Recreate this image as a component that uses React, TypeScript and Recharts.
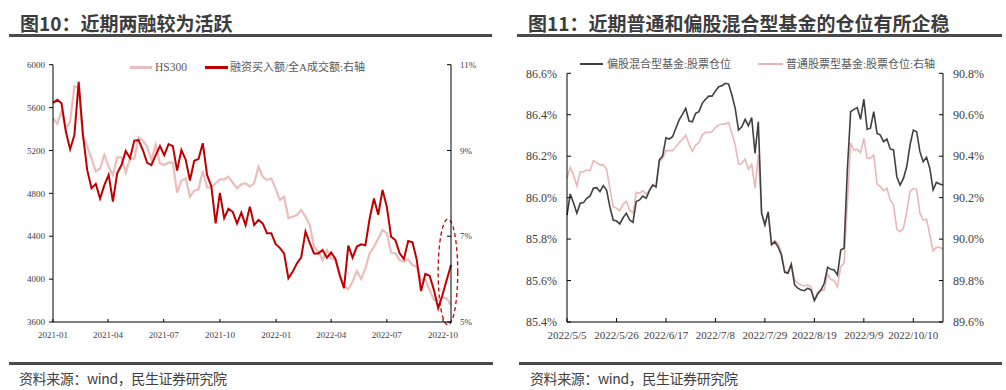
import React from 'react';
import { LineChart, Line, XAxis, YAxis, ReferenceArea } from 'recharts';

// ---------- Chart 10 data (weekly, from 2021-01-01) ----------
const weekStart = '2021-01-01';
const hs300 = [
  5500, 5450, 5570, 5400, 5470, 5800, 5780, 5330, 5235, 5127,
  5002, 5034, 5158, 5049, 4971, 5136, 5136, 4993, 5127, 5127,
  5323, 5291, 5235, 5111, 5251, 5080, 5064, 5086, 5086, 4806,
  4918, 4940, 4769, 4825, 4838, 5011, 4856, 4856, 4894, 4931,
  4931, 4955, 4899, 4847, 4884, 4894, 4862, 4894, 5049, 4955,
  4924, 4940, 4847, 4738, 4769, 4567, 4582, 4598, 4645, 4582,
  4505, 4302, 4256, 4178, 4272, 4194, 4178, 4022, 3929, 3905,
  3976, 4076, 4001, 4101, 4241, 4302, 4380, 4458, 4427, 4247,
  4241, 4178, 4162, 4184, 4131, 4116, 3992, 3992, 3898, 3805,
  3805, 3830, 3820, 3758,
];
const marginRatio = [
  10.11, 10.18, 10.1, 9.44, 9.03, 9.36, 10.6, 9.36, 8.54, 8.12,
  8.22, 7.88, 8.19, 8.43, 7.81, 8.47, 8.66, 8.99, 8.82, 9.23,
  9.24, 9.01, 8.71, 8.66, 8.89, 9.1, 8.89, 9.15, 9.1, 8.53,
  9.01, 8.79, 8.3, 8.76, 8.8, 9.17, 8.43, 8.16, 7.3, 8.01,
  7.42, 7.64, 7.57, 7.3, 7.55, 7.26, 7.69, 7.26, 7.38, 7.3,
  7.07, 7.07, 6.82, 6.73, 6.6, 6.02, 6.17, 6.37, 6.51, 7.11,
  6.84, 6.6, 6.6, 6.68, 6.5, 6.62, 6.47, 6.1, 5.79, 6.78,
  6.5, 6.76, 6.81, 6.79, 7.42, 7.88, 7.5, 8.08, 7.69, 6.99,
  6.91, 6.6, 6.47, 6.89, 6.86, 6.45, 5.72, 6.12, 6.08, 5.75,
  5.32, 5.63, 5.98, 6.33,
];
const quarterTicks = ['2021-01', '2021-04', '2021-07', '2021-10', '2022-01', '2022-04', '2022-07', '2022-10'];
const leftTicks = [3600, 4000, 4400, 4800, 5200, 5600, 6000];
const rightPctTicks = [5, 7, 9, 11];
const highlightArea = { x1: '2022-09-23', x2: '2022-10-25', y1: 4.93, y2: 7.4 };

// ---------- Chart 11 data (trading days, from 2022-05-05) ----------
const mixedFund = [
  85.916, 86.018, 85.973, 85.925, 85.973, 85.976, 85.997, 86.008, 86.045, 86.048,
  86.029, 86.058, 86.037, 85.956, 85.892, 85.887, 85.873, 85.903, 85.925, 85.892,
  85.881, 85.981, 85.989, 86.008, 85.997, 86.034, 86.061, 86.053, 86.182, 86.201,
  86.289, 86.283, 86.294, 86.335, 86.375, 86.402, 86.431, 86.37, 86.366, 86.407,
  86.415, 86.455, 86.475, 86.49, 86.49, 86.515, 86.535, 86.54, 86.552, 86.548,
  86.495, 86.431, 86.326, 86.342, 86.378, 86.347, 86.386, 86.214, 86.366, 85.925,
  85.868, 85.932, 85.772, 85.787, 85.763, 85.723, 85.64, 85.635, 85.678, 85.579,
  85.563, 85.554, 85.551, 85.563, 85.554, 85.503, 85.535, 85.554, 85.587, 85.664,
  85.654, 85.651, 85.627, 85.747, 85.756, 86.133, 86.415, 86.426, 86.434, 86.378,
  86.475, 86.33, 86.335, 86.415, 86.311, 86.302, 86.27, 86.283, 86.235, 86.23,
  86.101, 86.061, 86.093, 86.149, 86.254, 86.326, 86.318, 86.222, 86.173, 86.195,
  86.142, 86.037, 86.074, 86.066, 86.061,
];
const stockFund = [
  90.293, 90.346, 90.309, 90.256, 90.325, 90.325, 90.333, 90.33, 90.378, 90.369,
  90.358, 90.358, 90.338, 90.245, 90.156, 90.149, 90.137, 90.169, 90.181, 90.14,
  90.125, 90.226, 90.221, 90.234, 90.216, 90.237, 90.264, 90.25, 90.373, 90.39,
  90.427, 90.427, 90.427, 90.446, 90.465, 90.482, 90.502, 90.459, 90.425, 90.454,
  90.465, 90.502, 90.515, 90.515, 90.518, 90.538, 90.551, 90.554, 90.556, 90.562,
  90.511, 90.454, 90.362, 90.365, 90.387, 90.337, 90.361, 90.245, 90.406, 90.125,
  90.076, 90.125, 89.98, 89.992, 89.98, 89.932, 89.843, 89.843, 89.88, 89.803,
  89.787, 89.779, 89.774, 89.779, 89.77, 89.706, 89.746, 89.754, 89.754, 89.832,
  89.806, 89.799, 89.77, 89.867, 89.883, 90.173, 90.465, 90.43, 90.433, 90.417,
  90.486, 90.39, 90.39, 90.406, 90.266, 90.253, 90.234, 90.245, 90.189, 90.165,
  90.047, 90.036, 90.052, 90.132, 90.229, 90.245, 90.24, 90.125, 90.092, 90.096,
  90.02, 89.943, 89.96, 89.96, 89.951,
];
const fundTickLabels = ['2022/5/5', '2022/5/26', '2022/6/17', '2022/7/8', '2022/7/29', '2022/8/19', '2022/9/9', '2022/10/10'];
const fundTickIndex = [0, 15, 30, 45, 60, 75, 90, 105];
const mixedTicks = [85.4, 85.6, 85.8, 86.0, 86.2, 86.4, 86.6];
const stockTicks = [89.6, 89.8, 90.0, 90.2, 90.4, 90.6, 90.8];

// ---------- helpers ----------
const DAY = 86400000;
const toTs = (s: string) => {
  const [y, m, d] = s.split('-').map(Number);
  return Date.UTC(y, m - 1, d || 1);
};
const t0 = toTs(weekStart);
const chart10Data = hs300.map((v, i) => ({ t: t0 + i * 7 * DAY, hs300: v, ratio: marginRatio[i] }));
const chart10Ticks = quarterTicks.map(toTs);
const tsLabel = (ts: number) => {
  const d = new Date(ts);
  return `${d.getUTCFullYear()}-${String(d.getUTCMonth() + 1).padStart(2, '0')}`;
};
const chart11Data = mixedFund.map((v, i) => ({ i, mixed: v, stock: stockFund[i] }));

const SERIF = '"Liberation Serif", "Times New Roman", serif';
const CJK = '"Noto Sans CJK SC", "Noto Sans", sans-serif';
const LEGEND_FONT = '"Liberation Serif", "Noto Sans CJK SC", serif';

type TickOpts = { fs: number; color: string; fmt: (v: any) => string; gap: number; tick: number; inward: boolean };

const leftTick = (o: TickOpts) => (p: any) => {
  const { x, y, payload } = p;
  const x2 = o.inward ? x + o.tick : x - o.tick;
  return (
    <g>
      <line x1={x} x2={x2} y1={y} y2={y} stroke="#000" strokeWidth={1} />
      <text x={x - o.gap} y={y} dy="0.35em" textAnchor="end" fontSize={o.fs} fontFamily={SERIF} fill={o.color}>
        {o.fmt(payload.value)}
      </text>
    </g>
  );
};
const rightTick = (o: TickOpts) => (p: any) => {
  const { x, y, payload } = p;
  const x2 = o.inward ? x - o.tick : x + o.tick;
  return (
    <g>
      <line x1={x} x2={x2} y1={y} y2={y} stroke="#000" strokeWidth={1} />
      <text x={x + o.gap} y={y} dy="0.35em" textAnchor="start" fontSize={o.fs} fontFamily={SERIF} fill={o.color}>
        {o.fmt(payload.value)}
      </text>
    </g>
  );
};
const bottomTick = (o: TickOpts) => (p: any) => {
  const { x, y, payload } = p;
  return (
    <g>
      <line x1={x} x2={x} y1={y} y2={y - o.tick} stroke="#000" strokeWidth={1} />
      <text x={x} y={y + o.gap} textAnchor="middle" fontSize={o.fs} fontFamily={SERIF} fill={o.color}>
        {o.fmt(payload.value)}
      </text>
    </g>
  );
};

const EllipseShape = (p: any) => (
  <ellipse
    cx={p.x + p.width / 2}
    cy={p.y + p.height / 2}
    rx={Math.abs(p.width) / 2}
    ry={Math.abs(p.height) / 2}
    fill="none"
    stroke="#C00000"
    strokeWidth={1.3}
    strokeDasharray="4 3"
  />
);

const abs = (s: React.CSSProperties): React.CSSProperties => ({ position: 'absolute', ...s });

export default function App() {
  const tickColor10 = '#3a3a4a';
  const tickColor11 = '#404040';
  return (
    <div style={abs({ left: 0, top: 0, width: 1006, height: 390, background: '#fff', overflow: 'hidden', fontFamily: CJK })}>
      {/* titles */}
      <div style={abs({ left: 20, top: 12, fontSize: 19, fontWeight: 700, color: '#3c3c3c', lineHeight: '22px', whiteSpace: 'nowrap' })}>
        图10：近期两融较为活跃
      </div>
      <div style={abs({ left: 9, top: 34, width: 483, height: 3, background: '#4a4a4a' })} />
      <div style={abs({ left: 528, top: 12, fontSize: 19, fontWeight: 700, color: '#3c3c3c', lineHeight: '22px', whiteSpace: 'nowrap' })}>
        图11：近期普通和偏股混合型基金的仓位有所企稳
      </div>
      <div style={abs({ left: 517, top: 34, width: 485, height: 3, background: '#4a4a4a' })} />

      {/* chart 10 */}
      <div style={abs({ left: 0, top: 0, width: 500, height: 390 })}>
        <LineChart width={500} height={390} data={chart10Data} margin={{ top: 64.7, right: 9, bottom: 48, left: 13 }}>
          <XAxis
            dataKey="t"
            type="number"
            domain={[t0, chart10Data[chart10Data.length - 1].t]}
            ticks={chart10Ticks}
            height={20}
            tickSize={0}
            tickMargin={0}
            tickLine={false}
            axisLine={{ stroke: '#000' }}
            interval={0}
            tick={bottomTick({ fs: 9, color: tickColor10, fmt: tsLabel, gap: 16, tick: 3, inward: true })}
          />
          <YAxis
            yAxisId="left"
            orientation="left"
            width={40}
            domain={[3600, 6000]}
            ticks={leftTicks}
            interval={0}
            tickSize={0}
            tickMargin={0}
            tickLine={false}
            axisLine={{ stroke: '#000' }}
            tick={leftTick({ fs: 9, color: tickColor10, fmt: (v) => String(v), gap: 8, tick: 4, inward: false })}
          />
          <YAxis
            yAxisId="right"
            orientation="right"
            width={40}
            domain={[5, 11]}
            ticks={rightPctTicks}
            interval={0}
            tickSize={0}
            tickMargin={0}
            tickLine={false}
            axisLine={{ stroke: '#000' }}
            tick={rightTick({ fs: 9, color: tickColor10, fmt: (v) => `${v}%`, gap: 9, tick: 4, inward: true })}
          />
          <Line yAxisId="left" dataKey="hs300" type="linear" stroke="#EBBDBD" strokeWidth={2.2} dot={false} isAnimationActive={false} />
          <Line yAxisId="right" dataKey="ratio" type="linear" stroke="#C00000" strokeWidth={2} dot={false} isAnimationActive={false} />
          <ReferenceArea
            yAxisId="right"
            x1={toTs(highlightArea.x1)}
            x2={toTs(highlightArea.x2)}
            y1={highlightArea.y1}
            y2={highlightArea.y2}
            ifOverflow="visible"
            shape={EllipseShape}
          />
        </LineChart>
      </div>
      {/* chart 10 legend */}
      <div style={abs({ left: 130, top: 66, width: 22, height: 3, background: '#EBBDBD' })} />
      <div style={abs({ left: 155, top: 59, fontSize: 11.5, lineHeight: '16px', fontFamily: LEGEND_FONT, color: '#595959', whiteSpace: 'nowrap' })}>HS300</div>
      <div style={abs({ left: 205, top: 66, width: 23, height: 3, background: '#C00000' })} />
      <div style={abs({ left: 230, top: 59, fontSize: 11, lineHeight: '16px', fontFamily: LEGEND_FONT, color: '#595959', whiteSpace: 'nowrap' })}>融资买入额/全A成交额:右轴</div>

      {/* chart 11 */}
      <div style={abs({ left: 500, top: 0, width: 506, height: 390 })}>
        <LineChart width={506} height={390} data={chart11Data} margin={{ top: 73.3, right: 13, bottom: 48, left: 17 }}>
          <XAxis
            dataKey="i"
            type="number"
            domain={[0, mixedFund.length - 1]}
            ticks={fundTickIndex}
            interval={0}
            height={20}
            tickSize={0}
            tickMargin={0}
            tickLine={false}
            axisLine={{ stroke: '#000' }}
            tick={bottomTick({ fs: 11, color: tickColor11, fmt: (v) => fundTickLabels[fundTickIndex.indexOf(v)], gap: 17, tick: 4, inward: true })}
          />
          <YAxis
            yAxisId="left"
            orientation="left"
            width={50}
            domain={[85.4, 86.6]}
            ticks={mixedTicks}
            interval={0}
            tickSize={0}
            tickMargin={0}
            tickLine={false}
            axisLine={{ stroke: '#000' }}
            tick={leftTick({ fs: 12, color: tickColor11, fmt: (v) => `${Number(v).toFixed(1)}%`, gap: 10, tick: 4, inward: true })}
          />
          <YAxis
            yAxisId="right"
            orientation="right"
            width={50}
            domain={[89.6, 90.8]}
            ticks={stockTicks}
            interval={0}
            tickSize={0}
            tickMargin={0}
            tickLine={false}
            axisLine={{ stroke: '#000' }}
            tick={rightTick({ fs: 12, color: tickColor11, fmt: (v) => `${Number(v).toFixed(1)}%`, gap: 10, tick: 4, inward: true })}
          />
          <Line yAxisId="right" dataKey="stock" type="linear" stroke="#E8B7B7" strokeWidth={1.6} dot={false} isAnimationActive={false} />
          <Line yAxisId="left" dataKey="mixed" type="linear" stroke="#404040" strokeWidth={1.6} dot={false} isAnimationActive={false} />
        </LineChart>
      </div>
      {/* chart 11 legend */}
      <div style={abs({ left: 580, top: 63, width: 23, height: 2, background: '#404040' })} />
      <div style={abs({ left: 607, top: 56, fontSize: 11, lineHeight: '16px', fontFamily: LEGEND_FONT, color: '#595959', whiteSpace: 'nowrap' })}>偏股混合型基金:股票仓位</div>
      <div style={abs({ left: 758, top: 63, width: 25, height: 2, background: '#E8B7B7' })} />
      <div style={abs({ left: 786, top: 56, fontSize: 11, lineHeight: '16px', fontFamily: LEGEND_FONT, color: '#595959', whiteSpace: 'nowrap' })}>普通股票型基金:股票仓位:右轴</div>

      {/* footers */}
      <div style={abs({ left: 9, top: 362, width: 484, height: 3, background: '#4a4a4a' })} />
      <div style={abs({ left: 519, top: 362, width: 483, height: 3, background: '#4a4a4a' })} />
      <div style={abs({ left: 19, top: 369, fontSize: 14, lineHeight: '18px', color: '#404040', whiteSpace: 'nowrap', letterSpacing: -0.4 })}>资料来源：wind，民生证券研究院</div>
      <div style={abs({ left: 530, top: 369, fontSize: 14, lineHeight: '18px', color: '#404040', whiteSpace: 'nowrap', letterSpacing: -0.4 })}>资料来源：wind，民生证券研究院</div>
    </div>
  );
}
